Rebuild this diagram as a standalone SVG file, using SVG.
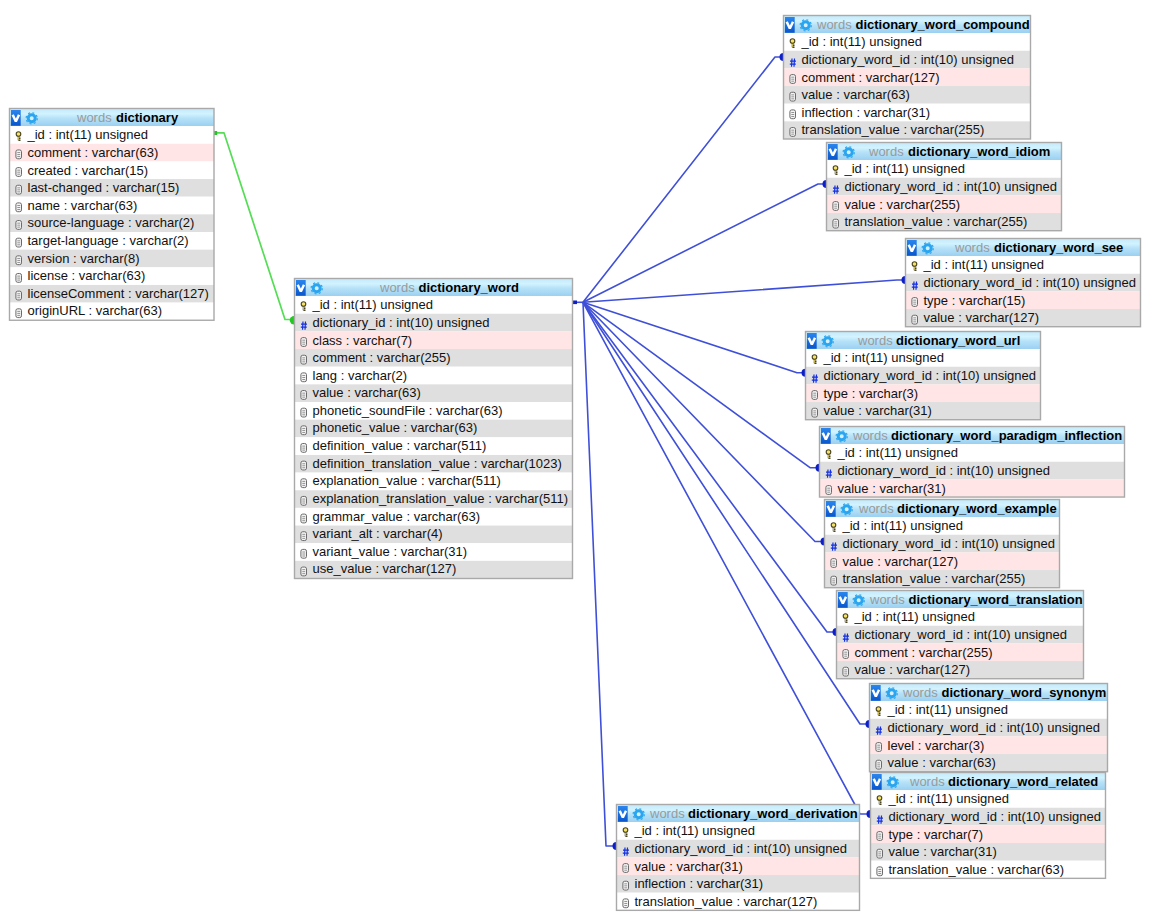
<svg xmlns="http://www.w3.org/2000/svg" width="1164" height="915" viewBox="0 0 1164 915">
<style>
text{font-family:"Liberation Sans",Arial,sans-serif;font-size:13px;fill:#111}
.h{fill:url(#hg)}
.w{fill:#fff}.g{fill:#dfdfdf}.p{fill:#ffe5e5}
.b{fill:none;stroke:#a9a9a9;stroke-width:1.4}
.tw{fill:#9a9a9a}.tn{font-weight:bold;fill:#000}
.c{fill:none;stroke:#3f50d8;stroke-width:1.6;stroke-linejoin:round}
.d{fill:#0d1fc8}
.cg{fill:none;stroke:#55dd55;stroke-width:1.7;stroke-linejoin:round}
.dg{fill:#22c922}
</style>
<defs>
<linearGradient id="hg" x1="0" y1="0" x2="0" y2="1"><stop offset="0" stop-color="#c4e9fa"/><stop offset=".3" stop-color="#d2f3ff"/><stop offset=".55" stop-color="#b6e2f8"/><stop offset="1" stop-color="#9bd0f1"/></linearGradient>
<linearGradient id="vg" x1="0" y1="0" x2="0" y2="1"><stop offset="0" stop-color="#2a86ee"/><stop offset="1" stop-color="#0a55cc"/></linearGradient>
<g id="hdr">
<rect x="1.500" y="1.500" width="9.700" height="15.800" fill="url(#vg)"/>
<polyline points="3.200,6.300 6.350,13 9.500,6.300" fill="none" stroke="#fff" stroke-width="2.500" stroke-linejoin="bevel"/>
<circle cx="22.200" cy="9.800" r="3.500" fill="#d5f0ff" stroke="#2aa5ef" stroke-width="3"/>
<circle cx="22.200" cy="9.800" r="5.600" fill="none" stroke="#2aa5ef" stroke-width="1.200" stroke-dasharray="2 2.400"/>
</g>
<g id="k"><path d="M9 9.800V14.200M9 12.200H11M9 14.200H11" fill="none" stroke="#4a4420" stroke-width="1.500"/><path d="M9 9.800V13.800" stroke="#f5e268" stroke-width=".7"/><circle cx="9" cy="7.900" r="2.300" fill="#f5e268" stroke="#4a4420" stroke-width="1.100"/></g>
<g id="n"><path d="M8.500 7.800L8 16M11 7.800L10.500 16M6.500 10.400H12.500M6.300 13.400H12.300" fill="none" stroke="#1530e0" stroke-width="1.200"/></g>
<g id="f"><rect x="6.400" y="6.200" width="5.600" height="8.800" rx="1.800" fill="#f5f5f5" stroke="#6a6a6a" stroke-width="1"/><path d="M7.800 8.800H10.700M7.800 10.800H10.700M7.800 12.800H10.700" stroke="#7a7a7a" stroke-width=".8"/></g>
</defs>
<rect width="1164" height="915" fill="#fff"/>
<g id="connectors">
<path class="cg" d="M214 132.800H224L285 319.500H293"/>
<rect class="dg" x="214" y="131" width="3.200" height="4"/>
<circle class="dg" cx="294" cy="320.200" r="4.200"/>
<path class="c" d="M573 302.300H583"/>
<rect class="d" x="573" y="300.500" width="4" height="3.600"/>
<path class="c" d="M583 302.300L775 57H783"/>
<path class="c" d="M583 302.300L818 184H826"/>
<path class="c" d="M583 302.300L897 280H905"/>
<path class="c" d="M583 302.300L797 372.700H805"/>
<path class="c" d="M583 302.300L810 467.700H819"/>
<path class="c" d="M583 302.300L815 541.500H824"/>
<path class="c" d="M583 302.300L827 632H836"/>
<path class="c" d="M583 302.300L860 724H869"/>
<path class="c" d="M583 302.300L860 814H870"/>
<path class="c" d="M583 302.300L606 846H616"/>
<circle class="d" cx="783.500" cy="57" r="4"/>
<circle class="d" cx="826.500" cy="184" r="4"/>
<circle class="d" cx="905.500" cy="280" r="4"/>
<circle class="d" cx="805.500" cy="372.700" r="4"/>
<circle class="d" cx="819.500" cy="467.700" r="4"/>
<circle class="d" cx="824.500" cy="541.500" r="4"/>
<circle class="d" cx="836.500" cy="632" r="4"/>
<circle class="d" cx="869.500" cy="724" r="4"/>
<circle class="d" cx="870.500" cy="814" r="4"/>
<circle class="d" cx="616.500" cy="846" r="4"/>
</g>
<g id="dictionary" transform="translate(9.5,108.5)">
<rect class="h" width="204.500" height="17.600"/><use href="#hdr"/>
<text y="13"><tspan class="tw" x="67.500">words</tspan><tspan class="tn" x="106.500">dictionary</tspan></text>
<rect class="w" y="17.600" width="204.500" height="17.650"/><use href="#k" y="17.600"/><text x="18" y="30.500">_id : int(11) unsigned</text>
<rect class="p" y="35.250" width="204.500" height="17.650"/><use href="#f" y="35.250"/><text x="18" y="48.500">comment : varchar(63)</text>
<rect class="w" y="52.900" width="204.500" height="17.650"/><use href="#f" y="52.900"/><text x="18" y="66.500">created : varchar(15)</text>
<rect class="g" y="70.550" width="204.500" height="17.650"/><use href="#f" y="70.550"/><text x="18" y="83.500">last-changed : varchar(15)</text>
<rect class="w" y="88.200" width="204.500" height="17.650"/><use href="#f" y="88.200"/><text x="18" y="101.500">name : varchar(63)</text>
<rect class="g" y="105.850" width="204.500" height="17.650"/><use href="#f" y="105.850"/><text x="18" y="118.500">source-language : varchar(2)</text>
<rect class="w" y="123.500" width="204.500" height="17.650"/><use href="#f" y="123.500"/><text x="18" y="136.500">target-language : varchar(2)</text>
<rect class="g" y="141.150" width="204.500" height="17.650"/><use href="#f" y="141.150"/><text x="18" y="154.500">version : varchar(8)</text>
<rect class="w" y="158.800" width="204.500" height="17.650"/><use href="#f" y="158.800"/><text x="18" y="171.500">license : varchar(63)</text>
<rect class="g" y="176.450" width="204.500" height="17.650"/><use href="#f" y="176.450"/><text x="18" y="189.500">licenseComment : varchar(127)</text>
<rect class="w" y="194.100" width="204.500" height="17.650"/><use href="#f" y="194.100"/><text x="18" y="206.500">originURL : varchar(63)</text>
<rect class="b" width="204.500" height="211.750"/>
</g>
<g id="dictionary_word" transform="translate(294.5,278.5)">
<rect class="h" width="278" height="17.600"/><use href="#hdr"/>
<text y="13"><tspan class="tw" x="85.500">words</tspan><tspan class="tn" x="124">dictionary_word</tspan></text>
<rect class="w" y="17.600" width="278" height="17.650"/><use href="#k" y="17.600"/><text x="18" y="30.500">_id : int(11) unsigned</text>
<rect class="g" y="35.250" width="278" height="17.650"/><use href="#n" y="35.250"/><text x="18" y="48.500">dictionary_id : int(10) unsigned</text>
<rect class="p" y="52.900" width="278" height="17.650"/><use href="#f" y="52.900"/><text x="18" y="66.500">class : varchar(7)</text>
<rect class="g" y="70.550" width="278" height="17.650"/><use href="#f" y="70.550"/><text x="18" y="83.500">comment : varchar(255)</text>
<rect class="w" y="88.200" width="278" height="17.650"/><use href="#f" y="88.200"/><text x="18" y="101.500">lang : varchar(2)</text>
<rect class="g" y="105.850" width="278" height="17.650"/><use href="#f" y="105.850"/><text x="18" y="118.500">value : varchar(63)</text>
<rect class="w" y="123.500" width="278" height="17.650"/><use href="#f" y="123.500"/><text x="18" y="136.500">phonetic_soundFile : varchar(63)</text>
<rect class="g" y="141.150" width="278" height="17.650"/><use href="#f" y="141.150"/><text x="18" y="153.500">phonetic_value : varchar(63)</text>
<rect class="w" y="158.800" width="278" height="17.650"/><use href="#f" y="158.800"/><text x="18" y="171.500">definition_value : varchar(511)</text>
<rect class="g" y="176.450" width="278" height="17.650"/><use href="#f" y="176.450"/><text x="18" y="189.500">definition_translation_value : varchar(1023)</text>
<rect class="w" y="194.100" width="278" height="17.650"/><use href="#f" y="194.100"/><text x="18" y="206.500">explanation_value : varchar(511)</text>
<rect class="g" y="211.750" width="278" height="17.650"/><use href="#f" y="211.750"/><text x="18" y="224.500">explanation_translation_value : varchar(511)</text>
<rect class="w" y="229.400" width="278" height="17.650"/><use href="#f" y="229.400"/><text x="18" y="242.500">grammar_value : varchar(63)</text>
<rect class="g" y="247.050" width="278" height="17.650"/><use href="#f" y="247.050"/><text x="18" y="259.500">variant_alt : varchar(4)</text>
<rect class="w" y="264.700" width="278" height="17.650"/><use href="#f" y="264.700"/><text x="18" y="277.500">variant_value : varchar(31)</text>
<rect class="g" y="282.350" width="278" height="17.650"/><use href="#f" y="282.350"/><text x="18" y="294.500">use_value : varchar(127)</text>
<rect class="b" width="278" height="300"/>
</g>
<g id="dictionary_word_compound" transform="translate(783.5,15.5)">
<rect class="h" width="247" height="17.600"/><use href="#hdr"/>
<text y="13"><tspan class="tw" x="33.500">words</tspan><tspan class="tn" x="72">dictionary_word_compound</tspan></text>
<rect class="w" y="17.600" width="247" height="17.650"/><use href="#k" y="17.600"/><text x="18" y="30.500">_id : int(11) unsigned</text>
<rect class="g" y="35.250" width="247" height="17.650"/><use href="#n" y="35.250"/><text x="18" y="48.500">dictionary_word_id : int(10) unsigned</text>
<rect class="p" y="52.900" width="247" height="17.650"/><use href="#f" y="52.900"/><text x="18" y="66.500">comment : varchar(127)</text>
<rect class="g" y="70.550" width="247" height="17.650"/><use href="#f" y="70.550"/><text x="18" y="83.500">value : varchar(63)</text>
<rect class="w" y="88.200" width="247" height="17.650"/><use href="#f" y="88.200"/><text x="18" y="101.500">inflection : varchar(31)</text>
<rect class="g" y="105.850" width="247" height="17.650"/><use href="#f" y="105.850"/><text x="18" y="118.500">translation_value : varchar(255)</text>
<rect class="b" width="247" height="123.500"/>
</g>
<g id="dictionary_word_idiom" transform="translate(826.5,142.5)">
<rect class="h" width="235" height="17.600"/><use href="#hdr"/>
<text y="13"><tspan class="tw" x="42.500">words</tspan><tspan class="tn" x="81.500">dictionary_word_idiom</tspan></text>
<rect class="w" y="17.600" width="235" height="17.650"/><use href="#k" y="17.600"/><text x="18" y="30.500">_id : int(11) unsigned</text>
<rect class="g" y="35.250" width="235" height="17.650"/><use href="#n" y="35.250"/><text x="18" y="48.500">dictionary_word_id : int(10) unsigned</text>
<rect class="p" y="52.900" width="235" height="17.650"/><use href="#f" y="52.900"/><text x="18" y="66.500">value : varchar(255)</text>
<rect class="g" y="70.550" width="235" height="17.650"/><use href="#f" y="70.550"/><text x="18" y="83.500">translation_value : varchar(255)</text>
<rect class="b" width="235" height="88.200"/>
</g>
<g id="dictionary_word_see" transform="translate(905.5,238.5)">
<rect class="h" width="235" height="17.600"/><use href="#hdr"/>
<text y="13"><tspan class="tw" x="49.500">words</tspan><tspan class="tn" x="88.500">dictionary_word_see</tspan></text>
<rect class="w" y="17.600" width="235" height="17.650"/><use href="#k" y="17.600"/><text x="18" y="30.500">_id : int(11) unsigned</text>
<rect class="g" y="35.250" width="235" height="17.650"/><use href="#n" y="35.250"/><text x="18" y="48.500">dictionary_word_id : int(10) unsigned</text>
<rect class="p" y="52.900" width="235" height="17.650"/><use href="#f" y="52.900"/><text x="18" y="66.500">type : varchar(15)</text>
<rect class="g" y="70.550" width="235" height="17.650"/><use href="#f" y="70.550"/><text x="18" y="83.500">value : varchar(127)</text>
<rect class="b" width="235" height="88.200"/>
</g>
<g id="dictionary_word_url" transform="translate(805.5,331.5)">
<rect class="h" width="235" height="17.600"/><use href="#hdr"/>
<text y="13"><tspan class="tw" x="52.500">words</tspan><tspan class="tn" x="90.500">dictionary_word_url</tspan></text>
<rect class="w" y="17.600" width="235" height="17.650"/><use href="#k" y="17.600"/><text x="18" y="30.500">_id : int(11) unsigned</text>
<rect class="g" y="35.250" width="235" height="17.650"/><use href="#n" y="35.250"/><text x="18" y="48.500">dictionary_word_id : int(10) unsigned</text>
<rect class="p" y="52.900" width="235" height="17.650"/><use href="#f" y="52.900"/><text x="18" y="66.500">type : varchar(3)</text>
<rect class="g" y="70.550" width="235" height="17.650"/><use href="#f" y="70.550"/><text x="18" y="83.500">value : varchar(31)</text>
<rect class="b" width="235" height="88.200"/>
</g>
<g id="dictionary_word_paradigm_inflection" transform="translate(819.5,426.5)">
<rect class="h" width="305" height="17.600"/><use href="#hdr"/>
<text y="13"><tspan class="tw" x="33.500">words</tspan><tspan class="tn" x="71.500">dictionary_word_paradigm_inflection</tspan></text>
<rect class="w" y="17.600" width="305" height="17.650"/><use href="#k" y="17.600"/><text x="18" y="30.500">_id : int(11) unsigned</text>
<rect class="g" y="35.250" width="305" height="17.650"/><use href="#n" y="35.250"/><text x="18" y="48.500">dictionary_word_id : int(10) unsigned</text>
<rect class="p" y="52.900" width="305" height="17.650"/><use href="#f" y="52.900"/><text x="18" y="66.500">value : varchar(31)</text>
<rect class="b" width="305" height="70.550"/>
</g>
<g id="dictionary_word_example" transform="translate(824.5,499.5)">
<rect class="h" width="235" height="17.600"/><use href="#hdr"/>
<text y="13"><tspan class="tw" x="34.500">words</tspan><tspan class="tn" x="72.500">dictionary_word_example</tspan></text>
<rect class="w" y="17.600" width="235" height="17.650"/><use href="#k" y="17.600"/><text x="18" y="30.500">_id : int(11) unsigned</text>
<rect class="g" y="35.250" width="235" height="17.650"/><use href="#n" y="35.250"/><text x="18" y="48.500">dictionary_word_id : int(10) unsigned</text>
<rect class="p" y="52.900" width="235" height="17.650"/><use href="#f" y="52.900"/><text x="18" y="66.500">value : varchar(127)</text>
<rect class="g" y="70.550" width="235" height="17.650"/><use href="#f" y="70.550"/><text x="18" y="83.500">translation_value : varchar(255)</text>
<rect class="b" width="235" height="88.200"/>
</g>
<g id="dictionary_word_translation" transform="translate(836.5,590.5)">
<rect class="h" width="247" height="17.600"/><use href="#hdr"/>
<text y="13"><tspan class="tw" x="33.500">words</tspan><tspan class="tn" x="72">dictionary_word_translation</tspan></text>
<rect class="w" y="17.600" width="247" height="17.650"/><use href="#k" y="17.600"/><text x="18" y="30.500">_id : int(11) unsigned</text>
<rect class="g" y="35.250" width="247" height="17.650"/><use href="#n" y="35.250"/><text x="18" y="48.500">dictionary_word_id : int(10) unsigned</text>
<rect class="p" y="52.900" width="247" height="17.650"/><use href="#f" y="52.900"/><text x="18" y="66.500">comment : varchar(255)</text>
<rect class="g" y="70.550" width="247" height="17.650"/><use href="#f" y="70.550"/><text x="18" y="83.500">value : varchar(127)</text>
<rect class="b" width="247" height="88.200"/>
</g>
<g id="dictionary_word_related" transform="translate(870.5,772.5)">
<rect class="h" width="235" height="17.600"/><use href="#hdr"/>
<text y="13"><tspan class="tw" x="39.500">words</tspan><tspan class="tn" x="77.500">dictionary_word_related</tspan></text>
<rect class="w" y="17.600" width="235" height="17.650"/><use href="#k" y="17.600"/><text x="18" y="30.500">_id : int(11) unsigned</text>
<rect class="g" y="35.250" width="235" height="17.650"/><use href="#n" y="35.250"/><text x="18" y="48.500">dictionary_word_id : int(10) unsigned</text>
<rect class="p" y="52.900" width="235" height="17.650"/><use href="#f" y="52.900"/><text x="18" y="66.500">type : varchar(7)</text>
<rect class="g" y="70.550" width="235" height="17.650"/><use href="#f" y="70.550"/><text x="18" y="83.500">value : varchar(31)</text>
<rect class="w" y="88.200" width="235" height="17.650"/><use href="#f" y="88.200"/><text x="18" y="101.500">translation_value : varchar(63)</text>
<rect class="b" width="235" height="105.850"/>
</g>
<g id="dictionary_word_synonym" transform="translate(869.5,683.5)">
<rect class="h" width="238" height="17.600"/><use href="#hdr"/>
<text y="13"><tspan class="tw" x="33.500">words</tspan><tspan class="tn" x="72">dictionary_word_synonym</tspan></text>
<rect class="w" y="17.600" width="238" height="17.650"/><use href="#k" y="17.600"/><text x="18" y="30.500">_id : int(11) unsigned</text>
<rect class="g" y="35.250" width="238" height="17.650"/><use href="#n" y="35.250"/><text x="18" y="48.500">dictionary_word_id : int(10) unsigned</text>
<rect class="p" y="52.900" width="238" height="17.650"/><use href="#f" y="52.900"/><text x="18" y="66.500">level : varchar(3)</text>
<rect class="g" y="70.550" width="238" height="17.650"/><use href="#f" y="70.550"/><text x="18" y="83.500">value : varchar(63)</text>
<rect class="b" width="238" height="88.200"/>
</g>
<g id="dictionary_word_derivation" transform="translate(616.5,804.5)">
<rect class="h" width="243" height="17.600"/><use href="#hdr"/>
<text y="13"><tspan class="tw" x="33.500">words</tspan><tspan class="tn" x="71.500">dictionary_word_derivation</tspan></text>
<rect class="w" y="17.600" width="243" height="17.650"/><use href="#k" y="17.600"/><text x="18" y="30.500">_id : int(11) unsigned</text>
<rect class="g" y="35.250" width="243" height="17.650"/><use href="#n" y="35.250"/><text x="18" y="48.500">dictionary_word_id : int(10) unsigned</text>
<rect class="p" y="52.900" width="243" height="17.650"/><use href="#f" y="52.900"/><text x="18" y="66.500">value : varchar(31)</text>
<rect class="g" y="70.550" width="243" height="17.650"/><use href="#f" y="70.550"/><text x="18" y="83.500">inflection : varchar(31)</text>
<rect class="w" y="88.200" width="243" height="17.650"/><use href="#f" y="88.200"/><text x="18" y="101.500">translation_value : varchar(127)</text>
<rect class="b" width="243" height="105.850"/>
</g>
</svg>
